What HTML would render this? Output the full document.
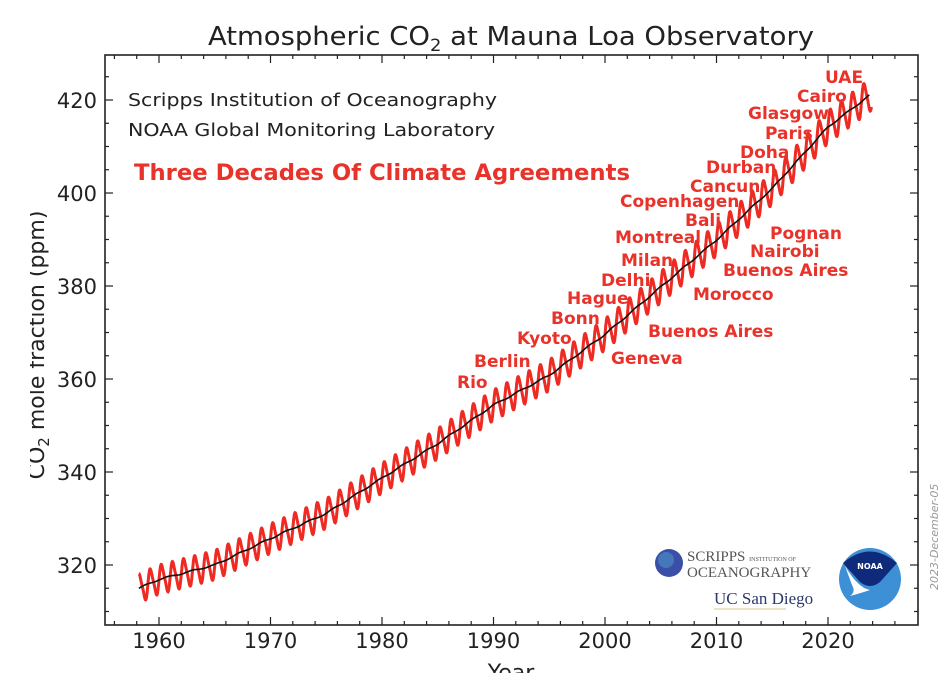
<!DOCTYPE html>
<html><head><meta charset="utf-8"><style>
html,body{margin:0;padding:0;background:#fff;overflow:hidden}
svg{display:block}
text{font-family:"DejaVu Sans","Liberation Sans",sans-serif}
.r{fill:#e8322a;font-weight:bold;font-size:17px}
</style></head><body>
<svg id="s" width="947" height="692" viewBox="0 0 947 692" xmlns="http://www.w3.org/2000/svg">
<rect width="947" height="692" fill="#fff"/>
<text x="511" y="45" text-anchor="middle" font-size="26" fill="#222" textLength="606" lengthAdjust="spacingAndGlyphs">Atmospheric CO<tspan font-size="17" dy="6">2</tspan><tspan dy="-6"> at Mauna Loa Observatory</tspan></text>
<g id="plot"></g>
<rect x="105" y="55" width="813" height="570" fill="none" stroke="#222" stroke-width="1.6"/>
<g id="ticks" stroke="#222" stroke-width="1.2"></g>
<g id="labels" font-size="21" fill="#222"></g>
<text x="128" y="106" font-size="18" fill="#222" textLength="369" lengthAdjust="spacingAndGlyphs">Scripps Institution of Oceanography</text>
<text x="128" y="136" font-size="18" fill="#222" textLength="367" lengthAdjust="spacingAndGlyphs">NOAA Global Monitoring Laboratory</text>
<text x="134" y="180" class="r" style="font-size:22px" textLength="496" lengthAdjust="spacingAndGlyphs">Three Decades Of Climate Agreements</text>
<g class="r">
<text x="825" y="83">UAE</text><text x="797" y="102">Cairo</text><text x="748" y="119">Glasgow</text>
<text x="765" y="139">Paris</text><text x="740" y="158">Doha</text><text x="706" y="173">Durban</text>
<text x="690" y="192">Cancun</text><text x="620" y="207">Copenhagen</text><text x="685" y="226">Bali</text>
<text x="615" y="243">Montreal</text><text x="770" y="239">Pognan</text><text x="621" y="266">Milan</text>
<text x="750" y="257">Nairobi</text><text x="601" y="286">Delhi</text><text x="723" y="276">Buenos Aires</text>
<text x="567" y="304">Hague</text><text x="693" y="300">Morocco</text><text x="551" y="324">Bonn</text>
<text x="517" y="344">Kyoto</text><text x="648" y="337">Buenos Aires</text><text x="474" y="367">Berlin</text>
<text x="611" y="364">Geneva</text><text x="457" y="388">Rio</text>
</g>
<text transform="translate(44,345) rotate(-90)" text-anchor="middle" font-size="22" fill="#222">CO<tspan font-size="15" dy="5">2</tspan><tspan dy="-5"> mole fraction (ppm)</tspan></text>
<rect x="0" y="150" width="30" height="400" fill="#fff"/>
<text x="511" y="680" text-anchor="middle" font-size="22" fill="#222">Year</text>
<rect x="300" y="673" width="400" height="19" fill="#fff"/>
<text transform="translate(938,590) rotate(-90)" font-size="11" fill="#999" font-style="italic">2023-December-05</text>
<circle cx="669" cy="563" r="14" fill="#3b4fa8"/><circle cx="666" cy="560" r="8" fill="#4a8ac0" opacity=".7"/>
<text x="687" y="561" font-size="15" fill="#555" style="font-family:'Liberation Serif',serif">SCRIPPS <tspan font-size="6">INSTITUTION OF</tspan></text>
<text x="687" y="577" font-size="15" fill="#555" style="font-family:'Liberation Serif',serif">OCEANOGRAPHY</text>
<text x="714" y="604" font-size="17" fill="#2a3a6a" style="font-family:'Liberation Serif',serif">UC San Diego</text>
<line x1="714" y1="609" x2="786" y2="609" stroke="#d8c890" stroke-width="1"/>
<circle cx="870" cy="579" r="31" fill="#3d8fd6"/>
<path d="M843 563 Q870 540 897 563 L880 582 Q870 590 860 582 Z" fill="#0f2a7a"/>
<path d="M845 566 Q858 588 870 590 Q858 594 850 596 Q856 592 852 585 Z" fill="#fff"/>
<text x="870" y="569" text-anchor="middle" font-size="8" font-weight="bold" fill="#fff">NOAA</text>
</svg>
<script>
const X=y=>159+(y-1960)*11.15, Y=v=>565-(v-320)*4.65;
const pts=[[1958,314.8],[1960,316.9],[1965,320.0],[1970,325.7],[1975,331.1],[1980,338.7],[1985,346.1],[1990,354.4],[1995,360.8],[2000,369.6],[2005,379.8],[2010,389.9],[2015,401.0],[2020,414.2],[2024,421.5]];
function trend(t){for(let i=0;i<pts.length-1;i++){const[a,av]=pts[i],[b,bv]=pts[i+1];if(t<=b){return av+(bv-av)*(t-a)/(b-a);}}return pts[pts.length-1][1];}
let red="",blk="";
for(let t=1958.2;t<=2023.9;t+=1/48){const tr=trend(t);const s=(2.9+0.006*(t-1958))*Math.sin(2*Math.PI*(t-0.1)+0.6)+0.6*Math.sin(4*Math.PI*t);
red+=(red?"L":"M")+X(t).toFixed(1)+" "+Y(tr+s).toFixed(1);}
for(let t=1958.2;t<=2023.9;t+=0.25){blk+=(blk?"L":"M")+X(t).toFixed(1)+" "+Y(trend(t)+0.15*Math.sin(t*3)).toFixed(1);}
document.getElementById("plot").innerHTML=`<path d="${red}" fill="none" stroke="#ee2a22" stroke-width="3"/><path d="${blk}" fill="none" stroke="#111" stroke-width="1.6"/>`;
let tk="",lb="";
for(let yr=1956;yr<=2028;yr+=2){const x=X(yr);if(x<106||x>917)continue;const L=yr%10==0?8:4;tk+=`<line x1="${x}" y1="625" x2="${x}" y2="${625-L}"/><line x1="${x}" y1="55" x2="${x}" y2="${55+L}"/>`;if(yr%10==0)lb+=`<text x="${x}" y="648" text-anchor="middle">${yr}</text>`;}
for(let v=310;v<=430;v+=5){const y=Y(v);if(y<56||y>624)continue;const L=v%20==0?8:4;tk+=`<line x1="105" y1="${y}" x2="${105+L}" y2="${y}"/><line x1="918" y1="${y}" x2="${918-L}" y2="${y}"/>`;if(v%20==0)lb+=`<text x="97" y="${y+8}" text-anchor="end">${v}</text>`;}
document.getElementById("ticks").innerHTML=tk;document.getElementById("labels").innerHTML=lb;
</script>
</body></html>
